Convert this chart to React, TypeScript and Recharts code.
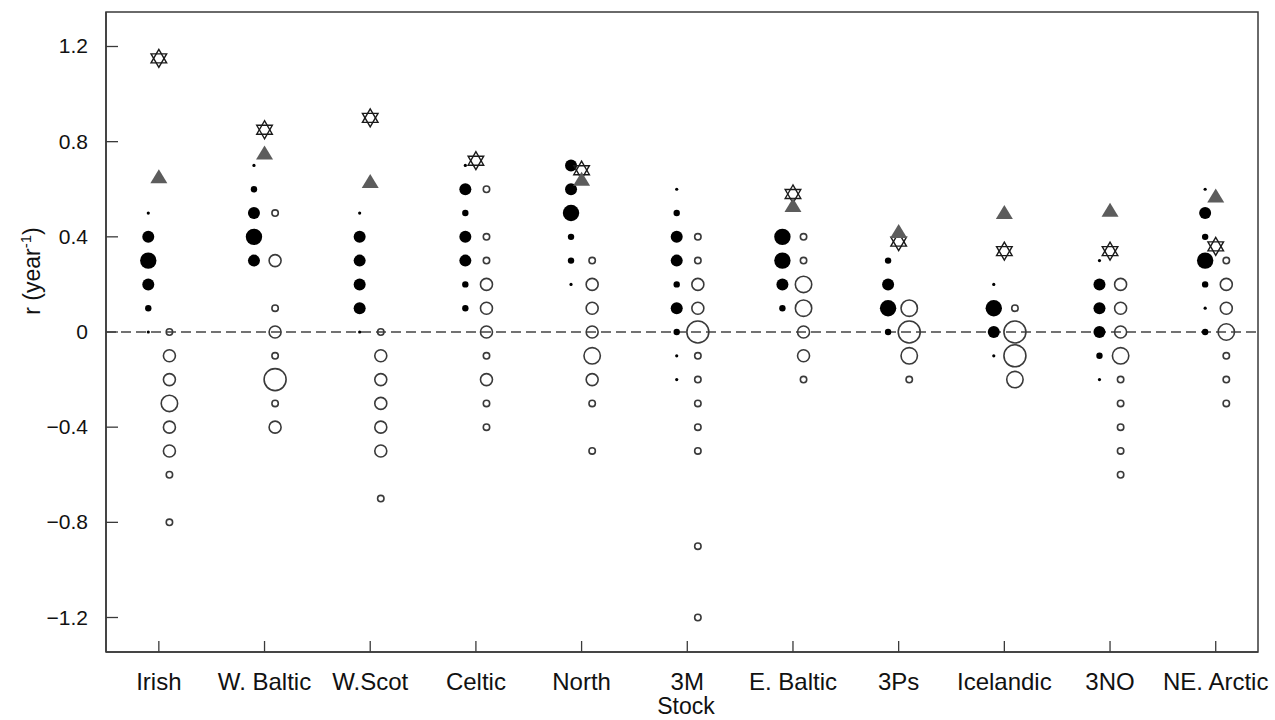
import React from 'react'
import {
  ScatterChart, Scatter, XAxis, YAxis, ReferenceLine, ReferenceArea,
} from 'recharts'

const stocks = ['Irish', 'W. Baltic', 'W.Scot', 'Celtic', 'North', '3M', 'E. Baltic', '3Ps', 'Icelandic', '3NO', 'NE. Arctic']

// hexagram and grey triangle estimates per stock (null = not drawn)
const starValues = [1.15, 0.85, 0.9, 0.72, 0.68, null, 0.58, 0.38, 0.34, 0.34, 0.36]
const triangleValues = [0.65, 0.75, 0.63, null, 0.64, null, 0.53, 0.42, 0.5, 0.51, 0.57]

// [r, size class] pairs, size class 1 (tiny) .. 5 (largest)
const filledByStock: number[][][] = [
  [[0.5, 1], [0.4, 3], [0.3, 4], [0.2, 3], [0.1, 2], [0, 1]],
  [[0.7, 1], [0.6, 2], [0.5, 3], [0.4, 4], [0.3, 3]],
  [[0.5, 1], [0.4, 3], [0.3, 3], [0.2, 3], [0.1, 3], [0, 1]],
  [[0.7, 1], [0.6, 3], [0.5, 2], [0.4, 3], [0.3, 3], [0.2, 2], [0.1, 2]],
  [[0.7, 3], [0.6, 3], [0.5, 4], [0.4, 2], [0.3, 2], [0.2, 1]],
  [[0.6, 1], [0.5, 2], [0.4, 3], [0.3, 3], [0.2, 2], [0.1, 3], [0, 2], [-0.1, 1], [-0.2, 1]],
  [[0.4, 4], [0.3, 4], [0.2, 3], [0.1, 2]],
  [[0.3, 2], [0.2, 3], [0.1, 4], [0, 2]],
  [[0.2, 1], [0.1, 4], [0, 3], [-0.1, 1]],
  [[0.3, 1], [0.2, 3], [0.1, 3], [0, 3], [-0.1, 2], [-0.2, 1]],
  [[0.6, 1], [0.5, 3], [0.4, 2], [0.3, 4], [0.2, 2], [0.1, 1], [0, 2]],
]

const openByStock: number[][][] = [
  [[0, 2], [-0.1, 3], [-0.2, 3], [-0.3, 4], [-0.4, 3], [-0.5, 3], [-0.6, 2], [-0.8, 2]],
  [[0.5, 2], [0.3, 3], [0.1, 2], [0, 3], [-0.1, 2], [-0.2, 5], [-0.3, 2], [-0.4, 3]],
  [[0, 2], [-0.1, 3], [-0.2, 3], [-0.3, 3], [-0.4, 3], [-0.5, 3], [-0.7, 2]],
  [[0.6, 2], [0.4, 2], [0.3, 2], [0.2, 3], [0.1, 3], [0, 3], [-0.1, 2], [-0.2, 3], [-0.3, 2], [-0.4, 2]],
  [[0.3, 2], [0.2, 3], [0.1, 3], [0, 3], [-0.1, 4], [-0.2, 3], [-0.3, 2], [-0.5, 2]],
  [[0.4, 2], [0.3, 2], [0.2, 3], [0.1, 3], [0, 5], [-0.1, 2], [-0.2, 2], [-0.3, 2], [-0.4, 2], [-0.5, 2], [-0.9, 2], [-1.2, 2]],
  [[0.4, 2], [0.3, 2], [0.2, 4], [0.1, 4], [0, 3], [-0.1, 3], [-0.2, 2]],
  [[0.1, 4], [0, 5], [-0.1, 4], [-0.2, 2]],
  [[0.1, 2], [0, 5], [-0.1, 5], [-0.2, 4]],
  [[0.2, 3], [0.1, 3], [0, 3], [-0.1, 4], [-0.2, 2], [-0.3, 2], [-0.4, 2], [-0.5, 2], [-0.6, 2]],
  [[0.3, 2], [0.2, 3], [0.1, 3], [0, 4], [-0.1, 2], [-0.2, 2], [-0.3, 2]],
]

const yTicks = [-1.2, -0.8, -0.4, 0, 0.4, 0.8, 1.2]
const xTicks = stocks.map((_, i) => i)

const RADII = [0, 1.6, 3.2, 6, 8.2, 11]
const FONT = '"Liberation Sans", Arial, sans-serif'
const AXIS = '#3a3a3a'

const filledData = filledByStock.flatMap((pts, i) => pts.map(([y, n]) => ({ x: i - 0.1, y, n })))
const openData = openByStock.flatMap((pts, i) => pts.map(([y, n]) => ({ x: i + 0.1, y, n })))
const starData = starValues.map((y, i) => ({ x: i, y })).filter(d => d.y != null)
const triangleData = triangleValues.map((y, i) => ({ x: i, y })).filter(d => d.y != null)

const FilledDot = (p: any) => <circle cx={p.cx} cy={p.cy} r={RADII[p.payload.n]} fill="#000" />
const OpenDot = (p: any) => (
  <circle cx={p.cx} cy={p.cy} r={RADII[p.payload.n]} fill="none" stroke="#3a3a3a" strokeWidth={1.6} />
)
const TriangleMark = ({ cx, cy }: any) => (
  <polygon points={`${cx},${cy - 8} ${cx - 8.5},${cy + 6} ${cx + 8.5},${cy + 6}`} fill="#5c5c5c" />
)
const StarMark = ({ cx, cy }: any) => (
  <g stroke="#1a1a1a" strokeWidth={1.4}>
    <polygon points={`${cx},${cy - 9} ${cx - 7.8},${cy + 4.5} ${cx + 7.8},${cy + 4.5}`} fill="#fff" />
    <polygon points={`${cx},${cy + 9} ${cx - 7.8},${cy - 4.5} ${cx + 7.8},${cy - 4.5}`} fill="none" />
  </g>
)

const XTick = ({ x, y, payload }: any) => (
  <g>
    <line x1={x} x2={x} y1={y} y2={y - 11} stroke={AXIS} strokeWidth={1.3} />
    <text x={x} y={y + 38} textAnchor="middle" fontSize={24} fontFamily={FONT} fill="#111">
      {stocks[payload.value]}
    </text>
  </g>
)

const fmtY = (v: number) => (v === 0 ? '0' : v.toFixed(1).replace('-', '\u2212'))

const YTick = ({ x, y, payload }: any) => (
  <g>
    <line x1={x} x2={x + 12} y1={y} y2={y} stroke={AXIS} strokeWidth={1.3} />
    <text x={x - 18} y={y + 7} textAnchor="end" fontSize={21} fontFamily={FONT} fill="#111">
      {fmtY(payload.value)}
    </text>
  </g>
)

const YTitle = () => (
  <text transform="translate(40,271) rotate(-90)" textAnchor="middle" fontSize={23} fontFamily={FONT} fill="#111">
    r (year<tspan dy={-9} fontSize={15}>-1</tspan><tspan dy={9}>)</tspan>
  </text>
)

const XTitle = () => (
  <text x={686} y={714} textAnchor="middle" fontSize={23} fontFamily={FONT} fill="#111">Stock</text>
)

export default function App() {
  return (
    <div style={{ position: 'absolute', left: 0, top: 0, background: '#fff' }}>
      <ScatterChart width={1275} height={720} margin={{ top: 12, right: 17, bottom: 0, left: 0 }}>
        <XAxis type="number" dataKey="x" domain={[-0.5, 10.4]} ticks={xTicks} interval={0}
          allowDataOverflow tickSize={0} tickMargin={0} tickLine={false} height={68}
          axisLine={{ stroke: AXIS, strokeWidth: 1.5 }} tick={<XTick />}
          label={{ content: () => <XTitle /> }} />
        <YAxis type="number" dataKey="y" domain={[-1.345, 1.345]} ticks={yTicks} interval={0}
          allowDataOverflow tickSize={0} tickMargin={0} tickLine={false} width={106}
          axisLine={{ stroke: AXIS, strokeWidth: 1.5 }} tick={<YTick />}
          label={{ content: () => <YTitle /> }} />
        <ReferenceArea x1={-0.5} x2={10.4} y1={-1.345} y2={1.345} fill="none" fillOpacity={0}
          stroke={AXIS} strokeWidth={1.5} ifOverflow="visible" />
        <ReferenceLine y={0} stroke="#444" strokeWidth={1.3} strokeDasharray="10 5" />
        <Scatter data={filledData} shape={FilledDot} isAnimationActive={false} />
        <Scatter data={openData} shape={OpenDot} isAnimationActive={false} />
        <Scatter data={starData} shape={StarMark} isAnimationActive={false} />
        <Scatter data={triangleData} shape={TriangleMark} isAnimationActive={false} />
      </ScatterChart>
    </div>
  )
}
